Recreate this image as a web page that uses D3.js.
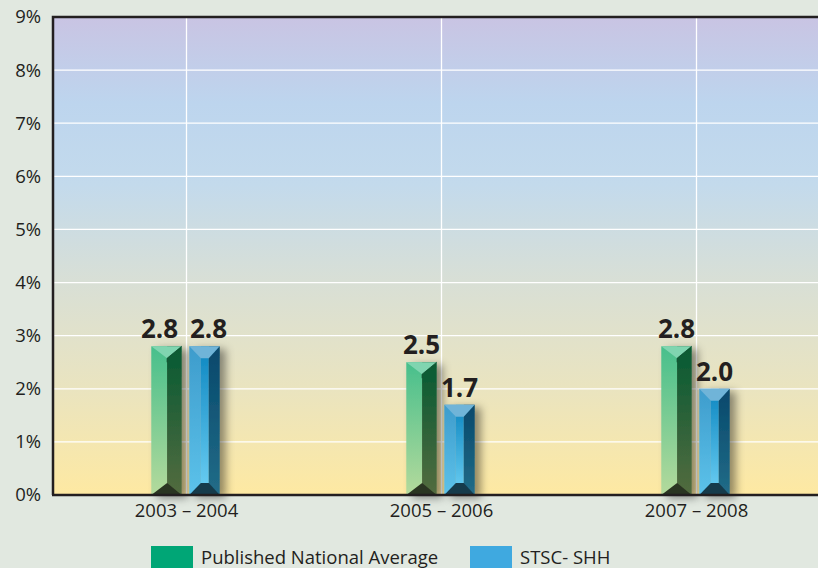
<!DOCTYPE html>
<html>
<head>
<meta charset="utf-8">
<script src="https://cdn.jsdelivr.net/npm/d3@7"></script>
<style>
  body { margin: 0; background: #e1e8e0; }
  svg { display: block; font-family: "Open Sans", "Noto Sans", sans-serif; }
</style>
</head>
<body>
<div class="chart"></div>
<script>
// chart data
let categories = ["2003 – 2004", "2005 – 2006", "2007 – 2008"]
let seriesNames = ["Published National Average", "STSC- SHH"]
let nationalAvg = [2.8, 2.5, 2.8]
let stscShh = [2.8, 1.7, 2.0]
let yTicks = [0, 1, 2, 3, 4, 5, 6, 7, 8, 9]

let w = 818
let h = 568

let svg = d3.select(".chart")
  .append("svg")
  .attr("width", w)
  .attr("height", h)

let defs = svg.append("defs")

// background of plot area, purple on top down to yellow
let bg = defs.append("linearGradient").attr("id", "bg")
  .attr("x1", 0).attr("y1", 0).attr("x2", 0).attr("y2", 1)
bg.append("stop").attr("offset", "0%").attr("stop-color", "#c9c4e3")
bg.append("stop").attr("offset", "18%").attr("stop-color", "#bdd5ee")
bg.append("stop").attr("offset", "35%").attr("stop-color", "#c3daec")
bg.append("stop").attr("offset", "55%").attr("stop-color", "#d8dfd6")
bg.append("stop").attr("offset", "78%").attr("stop-color", "#eae4bf")
bg.append("stop").attr("offset", "100%").attr("stop-color", "#fee9a2")

function vgrad(id, top, bottom) {
  let g = defs.append("linearGradient").attr("id", id)
    .attr("x1", 0).attr("y1", 0).attr("x2", 0).attr("y2", 1)
  g.append("stop").attr("offset", "0%").attr("stop-color", top)
  g.append("stop").attr("offset", "100%").attr("stop-color", bottom)
}
vgrad("gLeft", "#47bf8c", "#b4da9c")
vgrad("gRight", "#065a33", "#536b3f")
vgrad("bLeft", "#3e9ccc", "#5cc2ea")
vgrad("bMid", "#0d86c0", "#6dd0f4")
vgrad("bRight", "#07486b", "#226c88")

let shadow = defs.append("filter").attr("id", "shadow")
  .attr("x", "-30%").attr("y", "-10%").attr("width", "190%").attr("height", "130%")
shadow.append("feDropShadow")
  .attr("dx", 6).attr("dy", 3).attr("stdDeviation", 4)
  .attr("flood-color", "#000").attr("flood-opacity", 0.42)

// scales
let x = d3.scaleBand()
  .domain(categories)
  .range([59, 824])

let y = d3.scaleLinear()
  .domain([0, 9])
  .range([495, 17])

let series = d3.scaleBand()
  .domain(seriesNames)
  .range([-37.5, 35.5])
  .paddingInner(0.2)
  .paddingOuter(0.06)

let left = 53

// plot background
svg.append("rect")
  .attr("x", left).attr("y", y(9))
  .attr("width", w - left + 10).attr("height", y(0) - y(9))
  .attr("fill", "url(#bg)")

// horizontal grid
svg.append("g")
  .selectAll("line")
  .data(yTicks.slice(1, -1))
  .enter()
  .append("line")
  .attr("x1", left).attr("x2", w)
  .attr("y1", d => y(d)).attr("y2", d => y(d))
  .attr("stroke", "#fff").attr("stroke-width", 1.3)

// vertical grid at category centers
svg.append("g")
  .selectAll("line")
  .data(categories)
  .enter()
  .append("line")
  .attr("x1", d => x(d) + x.bandwidth() / 2)
  .attr("x2", d => x(d) + x.bandwidth() / 2)
  .attr("y1", y(9)).attr("y2", y(0))
  .attr("stroke", "#fff").attr("stroke-width", 1.3)

// frame: left and top
svg.append("path")
  .attr("d", `M${left},${y(0)} V${y(9)} H${w + 5}`)
  .attr("fill", "none").attr("stroke", "#231f20").attr("stroke-width", 2.5)

// y axis
let yAxis = d3.axisLeft(y)
  .tickValues(yTicks)
  .tickFormat(d => d + "%")
  .tickSize(0)
  .tickPadding(12)

let gy = svg.append("g")
  .attr("transform", `translate(${left},0)`)
  .call(yAxis)
gy.select(".domain").remove()
gy.selectAll("text")
  .attr("font-size", 18.5)
  .attr("fill", "#231f20")
  .attr("font-family", "Open Sans, sans-serif")

// x axis labels
let xAxis = d3.axisBottom(x).tickSize(0).tickPadding(9)
let gx = svg.append("g")
  .attr("transform", `translate(0,${y(0)})`)
  .call(xAxis)
gx.select(".domain").remove()
gx.selectAll("text")
  .attr("font-size", 18.5)
  .attr("fill", "#231f20")
  .attr("font-family", "Open Sans, sans-serif")

// bars
let rows = []
categories.forEach((c, i) => {
  rows.push({ cat: c, s: seriesNames[0], v: nationalAvg[i], kind: "g", other: stscShh[i] })
  rows.push({ cat: c, s: seriesNames[1], v: stscShh[i], kind: "b", other: nationalAvg[i] })
})

let bars = svg.append("g")
  .selectAll("g")
  .data(rows)
  .enter()
  .append("g")
  .attr("filter", "url(#shadow)")

bars.each(function(d) {
  let g = d3.select(this)
  let x0 = x(d.cat) + x.bandwidth() / 2 + series(d.s)
  let bw = series.bandwidth()
  let x1 = x0 + bw
  let yt = y(d.v)
  let yb = y(0)
  let bev = 12
  if (d.kind == "g") {
    let xm = x0 + bw * 0.52
    g.append("rect").attr("x", x0).attr("y", yt).attr("width", xm - x0).attr("height", yb - yt)
      .attr("fill", "url(#gLeft)")
    g.append("rect").attr("x", xm).attr("y", yt).attr("width", x1 - xm).attr("height", yb - yt)
      .attr("fill", "url(#gRight)")
    g.append("path").attr("d", `M${x0},${yt} L${x1},${yt} L${xm},${yt + bev} Z`)
      .attr("fill", "#80d5b0")
    g.append("path").attr("d", `M${x0},${yb} L${x1},${yb} L${xm},${yb - bev} Z`)
      .attr("fill", "#2b3420")
    g.append("path").attr("d", `M${x1},${yt} L${xm},${yt + bev} L${xm},${yt + bev + 4}`)
      .attr("fill", "none").attr("stroke", "#0d4a2c").attr("stroke-width", 0.8)
  } else {
    let xa = x0 + bw * 0.38
    let xb = x0 + bw * 0.64
    g.append("rect").attr("x", x0).attr("y", yt).attr("width", xa - x0).attr("height", yb - yt)
      .attr("fill", "url(#bLeft)")
    g.append("rect").attr("x", xa).attr("y", yt).attr("width", xb - xa).attr("height", yb - yt)
      .attr("fill", "url(#bMid)")
    g.append("rect").attr("x", xb).attr("y", yt).attr("width", x1 - xb).attr("height", yb - yt)
      .attr("fill", "url(#bRight)")
    g.append("path").attr("d", `M${x0},${yt} L${x1},${yt} L${xb},${yt + bev} L${xa},${yt + bev} Z`)
      .attr("fill", "#6fb4d8")
    g.append("path").attr("d", `M${x0},${yb} L${x1},${yb} L${xb},${yb - bev} L${xa},${yb - bev} Z`)
      .attr("fill", "#123a4c")
  }
})

// value labels, nudged apart when the two labels of a group sit at the same height
svg.append("g")
  .selectAll("text")
  .data(rows)
  .enter()
  .append("text")
  .attr("x", d => {
    let cx = x(d.cat) + x.bandwidth() / 2 + series(d.s) + series.bandwidth() / 2
    if (Math.abs(y(d.v) - y(d.other)) < 20) cx += d.kind == "g" ? -7 : 4
    return cx
  })
  .attr("y", d => y(d.v) - 8)
  .attr("text-anchor", "middle")
  .attr("font-size", 26)
  .attr("font-weight", "bold")
  .attr("fill", "#231f20")
  .text(d => d.v.toFixed(1))

// bottom axis line
svg.append("line")
  .attr("x1", left - 1).attr("x2", w)
  .attr("y1", y(0)).attr("y2", y(0))
  .attr("stroke", "#231f20").attr("stroke-width", 2.5)

// legend
let legendColors = ["#00a676", "#3fa9e0"]
let legendX = [151, 470]
let legend = svg.append("g")
  .selectAll("g")
  .data(seriesNames)
  .enter()
  .append("g")
  .attr("transform", (d, i) => `translate(${legendX[i]},546)`)
legend.append("rect")
  .attr("width", 42).attr("height", 24)
  .attr("fill", (d, i) => legendColors[i])
legend.append("text")
  .attr("x", 50).attr("y", 18)
  .attr("font-size", 18.5)
  .attr("fill", "#231f20")
  .text(d => d)
</script>
</body>
</html>
